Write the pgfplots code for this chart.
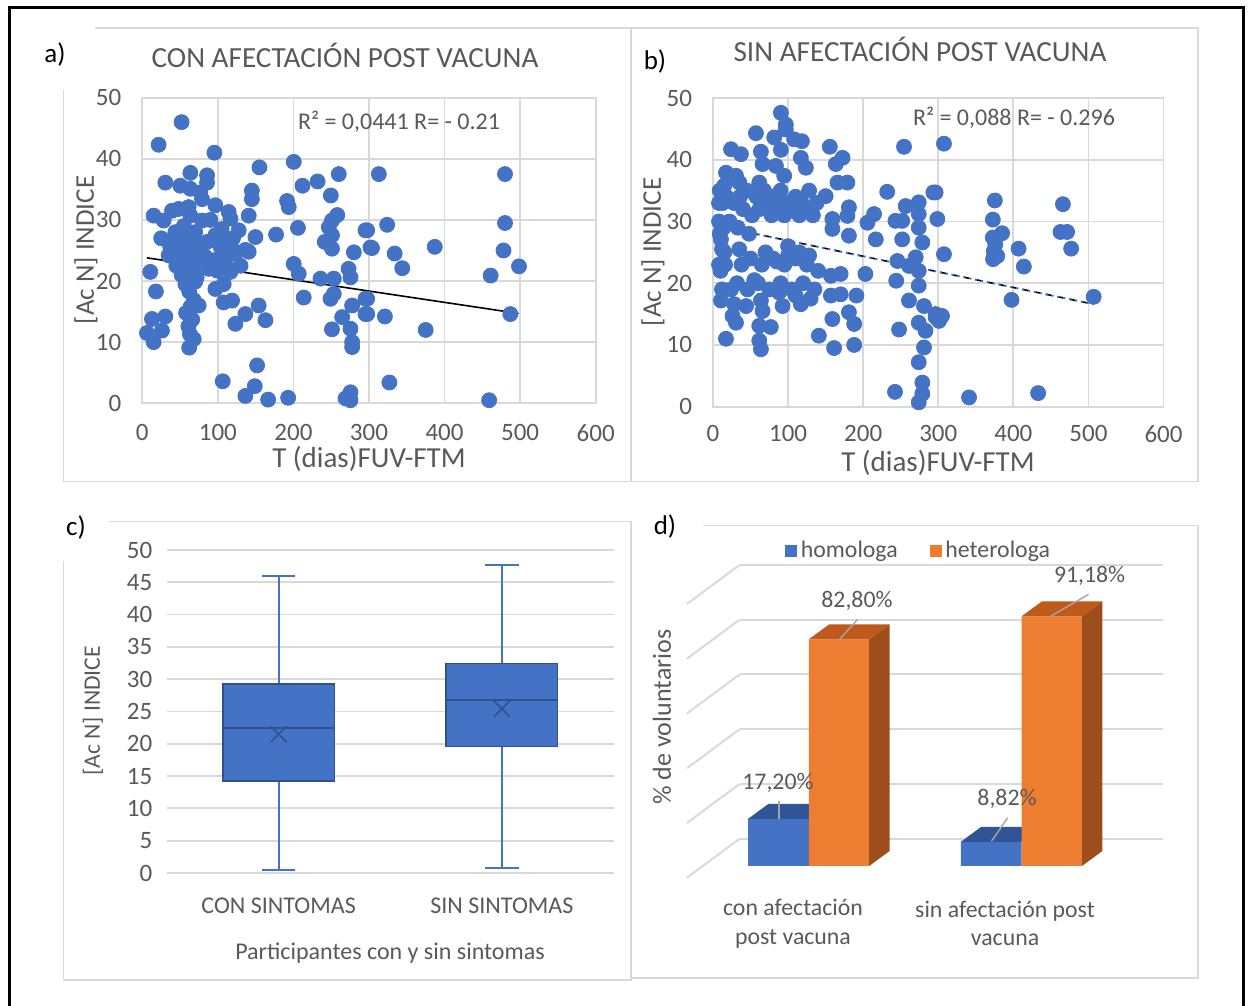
\documentclass[border=0pt]{standalone}
\usepackage{fontspec}
\setmainfont{Carlito}
\usepackage{pgfplots}
\usepackage{pgfplotstable}
\pgfplotsset{compat=1.18}
\usepgfplotslibrary{statistics}
\definecolor{bl}{HTML}{4472C4}
\definecolor{bld}{HTML}{2F528F}
\definecolor{blt}{HTML}{2F5597}
\definecolor{org}{HTML}{ED7D31}
\definecolor{orgt}{HTML}{C05A1C}
\definecolor{orgs}{HTML}{9C4F1D}
\definecolor{grd}{HTML}{D9D9D9}
\definecolor{txt}{HTML}{595959}
\definecolor{lead}{HTML}{A6A6A6}
\newcommand\fs[1]{\fontsize{#1}{1.2\dimexpr#1\relax}\selectfont}

\pgfplotstableread{
x y
52 46.0
21.6 42.3
95.4 41.0
155 38.6
200.4 39.5
232 36.3
260 37.5
313 37.5
212 35.6
249.5 34.0
145 34.8
145 33.4
191.6 33.1
193.8 32.1
30.5 36.1
63.6 37.7
85.7 37.3
85.7 36.1
50.3 35.6
63.6 35.1
76.8 34.5
79 33.4
15 30.7
28.2 29.9
39.3 31.5
48.1 31.8
61.3 32.1
63.6 30.7
96.7 32.4
114.3 31.3
116.6 30.2
79 29.9
140.8 30.7
127.6 28.3
149.7 27.2
177 27.6
206 28.7
251 29.9
258 30.8
246.8 28.8
251 27.5
241.5 26.4
251 25.3
295.4 28.3
302 25.5
280 24.7
43.8 28.0
48.1 26.4
37 25.6
56.6 24.8
67.6 26.4
85.7 26.4
96.7 27.5
103.6 25.6
110 26.4
123 24.8
136.4 25.1
34.8 24.2
48.1 24.5
67.6 24.2
83.1 24.0
94.1 23.4
105.3 24.2
123 24.5
140.8 24.8
116.6 21.5
99 21.7
25 27
55 29
70 28
90 30
105 28.5
120 27
75 25
60 27.5
110 23
130 22.5
88 22
78 23
45 22.5
52 21
40 26.8
60 22.8
65 21.5
70 19.9
62 18.3
68 16.9
64 15.8
58 14.8
66 13.7
61 12.6
63 11.3
68 10.5
62 9.1
74.6 16.0
72 20.6
57 19.5
10.6 21.5
18 18.3
12.8 13.8
30.5 14.2
26 11.9
6.2 11.5
15 10.0
96.7 18.7
107.7 19.5
107.7 16.5
118.8 16.8
123.2 13.0
136.4 14.6
154 16.0
163 13.6
200.4 22.8
207 21.2
213.6 17.3
235.8 20.4
253.4 20.4
249 17.1
253.4 17.9
273 22.0
275.5 20.6
277.7 16.0
264.5 14.1
275.5 12.2
295.4 17.1
295.4 14.6
251 12.1
277.7 10.0
277.7 9.2
151.9 6.2
106.4 3.6
148.8 2.8
136.4 1.2
166.5 0.6
193 0.9
275.5 1.8
269 0.8
275.5 0.5
324 29.2
304 25.4
334 24.5
344 22.1
387 25.6
297.6 28.3
480 37.5
480 29.5
478 25.0
498.5 22.4
461 20.9
487 14.6
297.6 17.1
297.6 14.6
321 14.2
375 12.0
327 3.4
459 0.5
}\dataA

\pgfplotstableread{
x y
90.4 47.6
97 45.7
97 44.9
57.2 44.3
81.5 43.6
108 43.3
118.4 43.0
24 41.7
37.2 40.9
63.8 41.3
90.4 41.6
155.6 42.1
254.4 42.1
307.6 42.6
117 40.3
123.7 38.7
172.5 40.3
163.6 39.3
66 39.3
83.8 39.0
94.8 37.4
17.3 37.9
30.6 37.4
15 35.8
35 36.3
61.6 36.3
165.8 36.3
179 36.3
232 34.8
293.5 34.7
296.5 34.7
128 35.0
150 34.1
256.6 32.5
274 33.1
274 31.2
298.8 30.4
181 32.3
179 30.9
214.5 31.2
205.7 29.8
243 30.1
252 30.1
274 29.0
159 30.4
159 28.8
181 27.7
216.8 27.1
252 27.1
278.8 26.6
10.6 27.1
35 25.5
15 25.0
307.6 24.7
375.4 33.4
372.7 30.3
372.7 27.4
385 28.1
376 26.3
374 25.2
378.6 24.4
373 23.9
407 25.6
414 22.7
466 32.8
462.8 28.3
471.6 28.3
477 25.6
507 17.8
397.6 17.3
296.5 14.5
305 14.7
341 1.5
433 2.2
17.3 11.0
61.6 10.7
63.8 9.3
61.6 13.1
77 12.9
26 14.7
30.6 13.6
10.6 17.2
28.3 16.6
44 16.3
63.8 17.2
66 15.5
92.7 16.3
117 16.6
141 11.5
161.3 9.5
188 10.0
159 14.2
181 15.3
188 13.4
157 18.0
170 18.2
191 18.0
157 21.2
170 21.5
203 21.5
244 20.4
247.8 12.5
242.4 2.4
261 17.2
274 19.6
281 16.3
274 13.6
283 12.3
281 9.6
274 7.2
278.8 3.9
278.8 2.1
274 0.7
296.5 15.0
301 13.9
245.6 23.6
270 24.2
274 22.0
261 22.8
8 33
14 29
18 34
22 30
28 33
33 29
36 34
40 32
45 35
48 28
52 31
58 34
62 32
68 35
72 33
78 31
80 34
85 32
90 35
95 31
98 33
105 32
110 34
115 31
118 33
126 32
133 31
138 33
10 22
16 23
24 19
32 20
38 23
46 19
50 24
60 20
65 23
75 19
80 24
90 20
95 23
105 19
110 24
120 20
125 23
135 19
140 22
100 26
8 30
9 28
12 25.5
8 23
12 19
9 35
13 33
70 25
85 23.5
100 24.5
115 25
128 24.5
55 20.5
88 18.5
110 18
130 17.5
}\dataB

\pgfplotsset{
  every axis/.append style={
    /pgf/number format/assume math mode=true,
    tick label style={font=\fs{12.5pt}, text=txt},
  },
  scat/.style={
    scale only axis,
    xmin=0, xmax=600, ymin=0, ymax=50,
    xtick={0,100,...,600}, ytick={0,10,...,50},
    grid=major,
    major grid style={draw=grd, line width=0.9pt},
    axis line style={draw=grd, line width=0.9pt},
    tick style={draw=none},
    xticklabel shift=7pt,
    yticklabel shift=7pt,
    clip=false,
  },
  dots/.style={only marks, mark=*, mark size=3.75pt, mark options={fill=bl, draw=bl}},
}

\begin{document}
\begin{tikzpicture}
\useasboundingbox (0,0) rectangle (624pt,503pt);

% frames
\draw[grd, line width=0.8pt] (31.65pt,458pt) -- (31.65pt,262.15pt) -- (315.35pt,262.15pt) -- (315.35pt,488.85pt) -- (47.5pt,488.85pt);
\draw[grd, line width=0.8pt] (315.35pt,488.85pt) -- (599pt,488.85pt) -- (599pt,262.15pt) -- (315.35pt,262.15pt);
\draw[grd, line width=0.8pt] (54.5pt,242.15pt) -- (315.35pt,242.15pt) -- (315.35pt,13pt) -- (31.65pt,13pt) -- (31.65pt,222.5pt);
\draw[grd, line width=0.8pt] (351.5pt,240.15pt) -- (599pt,240.15pt) -- (599pt,14pt) -- (315.35pt,14pt);
% outer black border
\draw[black, line width=1.3pt] (4.65pt,0pt) -- (4.65pt,499.35pt) -- (621.65pt,499.35pt) -- (621.65pt,0pt);

% ---------- panel a ----------
\begin{axis}[scat, at={(71.15pt,301.35pt)}, anchor=south west, width=226.7pt, height=152.8pt]
\addplot[dots] table[x=x,y=y] {\dataA};
\addplot[black, line width=0.8pt] coordinates {(6,23.8) (498,14.7)};
\end{axis}

% ---------- panel b ----------
\begin{axis}[scat, at={(356.5pt,299.65pt)}, anchor=south west, width=225.25pt, height=154.35pt, xticklabel shift=6pt]
\addplot[dots] table[x=x,y=y] {\dataB};
\addplot[black, line width=0.8pt, dashed] coordinates {(5,29.3) (507,16.6)};
\addplot[bl, line width=1pt, dotted] coordinates {(5,29.3) (507,16.6)};
\end{axis}

% ---------- panel c ----------
\begin{axis}[scale only axis, at={(83.5pt,66.5pt)}, anchor=south west,
  width=223.25pt, height=161.5pt,
  xmin=0.5, xmax=2.5, ymin=0, ymax=50,
  ytick={0,5,...,50}, xtick={1,2},
  xticklabels={CON SINTOMAS, SIN SINTOMAS},
  xticklabel style={font=\fs{12pt}},
  ymajorgrids, major grid style={draw=grd, line width=0.9pt},
  axis line style={draw=none}, tick style={draw=none},
  xticklabel shift=9pt, yticklabel shift=3.8pt,
  clip=false,
  boxplot/draw direction=y,
  boxplot/every box/.style={fill=bl, draw=bld, line width=0.8pt},
  boxplot/every whisker/.style={draw=bl, line width=1pt},
  boxplot/every median/.style={draw=bld, line width=1pt},
]
\addplot[draw=bl, boxplot prepared={lower whisker=0.5, lower quartile=14.2, median=22.4, upper quartile=29.3, upper whisker=46.0, draw position=1, box extend=0.5, whisker extend=0.15}] coordinates {};
\addplot[draw=bl, boxplot prepared={lower whisker=0.7, lower quartile=19.6, median=26.8, upper quartile=32.4, upper whisker=47.7, draw position=2, box extend=0.5, whisker extend=0.15}] coordinates {};
% means
\addplot[only marks, mark=x, mark size=5.5pt, mark options={draw=bld, line width=0.8pt}] coordinates {(1,21.5) (2,25.4)};
\end{axis}

% ---------- panel d ----------
\begin{axis}[scale only axis, at={(320pt,8.4pt)}, anchor=south west,
  width=280pt, height=239.55pt,
  xmin=640, xmax=1200, ymin=-45, ymax=130,
  hide axis, clip=false,
  legend columns=2,
  legend style={draw=none, fill=none, at={(axis cs:919.5,115)}, anchor=center,
    font=\fs{11.9pt}, text=txt, /tikz/every even column/.append style={column sep=14pt},
    inner sep=0pt},
  legend cell align=left,
]
% left wall diagonals
\addplot[grd, line width=1pt, forget plot] coordinates {(687,-4.27) (739.6,9.97)};
\addplot[grd, line width=1pt, forget plot] coordinates {(687,15.73) (739.6,29.97)};
\addplot[grd, line width=1pt, forget plot] coordinates {(687,35.73) (739.6,49.97)};
\addplot[grd, line width=1pt, forget plot] coordinates {(687,55.73) (739.6,69.97)};
\addplot[grd, line width=1pt, forget plot] coordinates {(687,75.73) (739.6,89.97)};
\addplot[grd, line width=1pt, forget plot] coordinates {(687,95.73) (739.6,109.97)};
% back wall lines
\addplot[grd, line width=1pt, forget plot] coordinates {(739.6,9.97) (1162.7,9.97)};
\addplot[grd, line width=1pt, forget plot] coordinates {(739.6,29.97) (1162.7,29.97)};
\addplot[grd, line width=1pt, forget plot] coordinates {(739.6,49.97) (1162.7,49.97)};
\addplot[grd, line width=1pt, forget plot] coordinates {(739.6,69.97) (1162.7,69.97)};
\addplot[grd, line width=1pt, forget plot] coordinates {(739.6,89.97) (1162.7,89.97)};
\addplot[grd, line width=1pt, forget plot] coordinates {(739.6,109.97) (1162.7,109.97)};
% homologa bars
\addplot[ybar, bar width=60.7, bar shift=0pt, fill=bl, draw=none, forget plot] coordinates {(778.4,17.2) (991.15,8.82)};
\addplot[fill=blt, draw=none, forget plot] coordinates {(748,17.2) (808.8,17.2) (829.2,22.68) (768.4,22.68)} -- cycle;
\addplot[fill=blt, draw=none, forget plot] coordinates {(960.8,8.82) (1021.5,8.82) (1041.9,14.3) (981.2,14.3)} -- cycle;
% heterologa bars
\addplot[ybar, bar width=60.5, bar shift=0pt, fill=org, draw=none, forget plot] coordinates {(839,82.8) (1051.75,91.18)};
\addplot[fill=orgt, draw=none, forget plot] coordinates {(808.8,82.8) (869.2,82.8) (889.6,88.28) (829.2,88.28)} -- cycle;
\addplot[fill=orgs, draw=none, forget plot] coordinates {(869.2,0) (889.6,5.48) (889.6,88.28) (869.2,82.8)} -- cycle;
\addplot[fill=orgt, draw=none, forget plot] coordinates {(1021.5,91.18) (1082,91.18) (1102.4,96.66) (1041.9,96.66)} -- cycle;
\addplot[fill=orgs, draw=none, forget plot] coordinates {(1082,0) (1102.4,5.48) (1102.4,96.66) (1082,91.18)} -- cycle;
% leader lines
\addplot[lead, line width=0.7pt, forget plot] coordinates {(779,17.2) (779,23.7)};
\addplot[lead, line width=0.7pt, forget plot] coordinates {(839.6,82.8) (857.7,90.1)};
\addplot[lead, line width=0.7pt, forget plot] coordinates {(991.5,9.1) (1007.7,17.6)};
\addplot[lead, line width=0.7pt, forget plot] coordinates {(1051,91.3) (1088.5,99.2)};
% legend
\addlegendimage{legend image code/.code={\fill[bl] (0pt,-2.75pt) rectangle (5.5pt,2.75pt);}}
\addlegendentry{homologa}
\addlegendimage{legend image code/.code={\fill[org] (0pt,-2.75pt) rectangle (5.5pt,2.75pt);}}
\addlegendentry{heterologa}
% data labels
\node[font=\fs{11.9pt}, text=txt] at (axis cs:778,30.3) {17,20\%};
\node[font=\fs{11.9pt}, text=txt] at (axis cs:857,96.8) {82,80\%};
\node[font=\fs{11.9pt}, text=txt] at (axis cs:1007,24.4) {8,82\%};
\node[font=\fs{11.9pt}, text=txt] at (axis cs:1089.6,105.9) {91,18\%};
\end{axis}

% ---------- texts ----------
\node[font=\fs{13.5pt}] at (27.5pt,475.5pt) {a)};
\node[font=\fs{13.5pt}] at (327.5pt,472pt) {b)};
\node[font=\fs{13.5pt}] at (38pt,239pt) {c)};
\node[font=\fs{13.5pt}] at (332.5pt,239.5pt) {d)};
\node[font=\fs{14.6pt}, text=txt] at (172.5pt,475.5pt) {CON AFECTACIÓN POST VACUNA};
\node[font=\fs{14.6pt}, text=txt] at (460pt,478.5pt) {SIN AFECTACIÓN POST VACUNA};
\node[font=\fs{12pt}, text=txt] at (199.5pt,442pt) {R² = 0,0441 R= - 0.21};
\node[font=\fs{12pt}, text=txt] at (507pt,444pt) {R² = 0,088 R= - 0.296};
\node[font=\fs{14.5pt}, text=txt] at (184.5pt,273.5pt) {T (dias)FUV-FTM};
\node[font=\fs{14.5pt}, text=txt] at (469pt,271.5pt) {T (dias)FUV-FTM};
\node[font=\fs{13.5pt}, text=txt, rotate=90] at (43pt,378pt) {[Ac N] INDICE};
\node[font=\fs{13.5pt}, text=txt, rotate=90] at (326.5pt,377pt) {[Ac N] INDICE};
\node[font=\fs{12pt}, text=txt] at (195pt,26.5pt) {Participantes con y sin sintomas};
\node[font=\fs{11.8pt}, text=txt, rotate=90] at (46.5pt,147.5pt) {[Ac N] INDICE};
\node[font=\fs{13pt}, text=txt, rotate=90] at (331pt,144.5pt) {\% de voluntarios};
\node[font=\fs{11.9pt}, text=txt, align=center] at (396.5pt,41.25pt) {con afectación\\post vacuna};
\node[font=\fs{11.9pt}, text=txt, align=center] at (502.5pt,41.25pt) {sin afectación post\\vacuna};
\end{tikzpicture}
\end{document}
